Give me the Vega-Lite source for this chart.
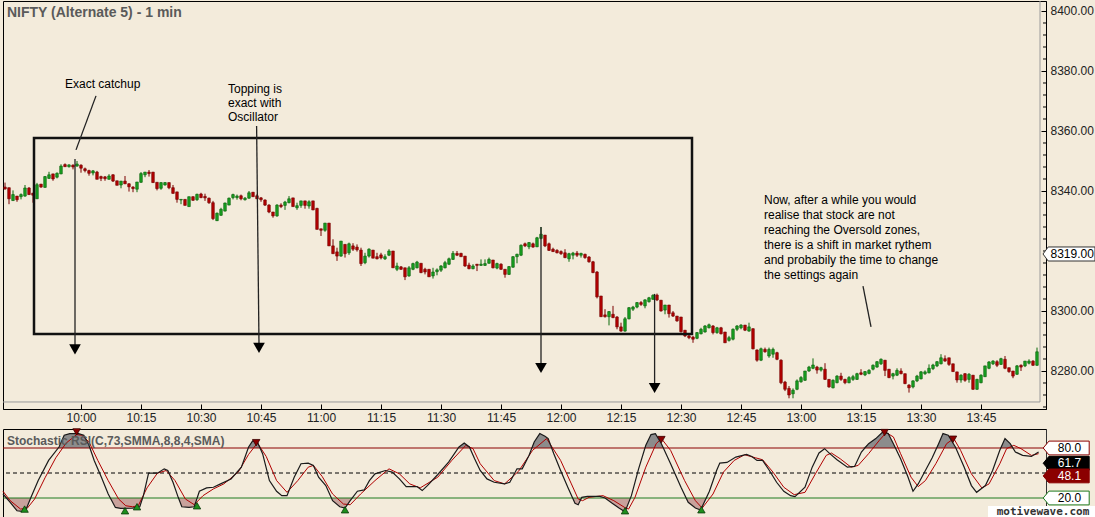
{
"$schema":"https://vega.github.io/schema/vega-lite/v6.json",
"background":"#f3ebdb",
"padding":0,
"bounds":"flush",
"spacing":20,
"config":{"view":{"stroke":"#000","strokeWidth":1},"font":"Liberation Sans"},
"datasets":{
"c":[
{"m":1,"o":8341.3,"h":8342.8,"l":8340.4,"c":8340.7},{"m":2,"o":8341.1,"h":8341.1,"l":8335.6,"c":8337.4},{"m":3,"o":8336.8,"h":8340.2,"l":8336.7,"c":8338.8},{"m":4,"o":8338.3,"h":8338.3,"l":8336.4,"c":8337.1},{"m":5,"o":8338.1,"h":8339.2,"l":8337.2,"c":8338.8},
{"m":6,"o":8338.3,"h":8342.0,"l":8338.1,"c":8341.0},{"m":7,"o":8341.0,"h":8341.3,"l":8338.7,"c":8338.8},{"m":8,"o":8339.3,"h":8339.3,"l":8336.1,"c":8338.6},{"m":9,"o":8337.4,"h":8342.7,"l":8337.4,"c":8342.1},{"m":10,"o":8342.3,"h":8342.3,"l":8341.1,"c":8341.3},
{"m":11,"o":8341.2,"h":8345.0,"l":8341.1,"c":8344.8},{"m":12,"o":8344.2,"h":8346.4,"l":8344.0,"c":8345.4},{"m":13,"o":8345.7,"h":8345.7,"l":8343.4,"c":8344.0},{"m":14,"o":8344.6,"h":8346.2,"l":8344.2,"c":8345.9},{"m":15,"o":8345.7,"h":8348.9,"l":8345.6,"c":8348.3},
{"m":16,"o":8348.8,"h":8349.2,"l":8348.0,"c":8348.1},{"m":17,"o":8348.1,"h":8348.9,"l":8347.8,"c":8348.7},{"m":18,"o":8348.6,"h":8348.9,"l":8347.2,"c":8348.0},{"m":19,"o":8348.3,"h":8350.0,"l":8348.1,"c":8349.0},{"m":20,"o":8348.6,"h":8348.9,"l":8346.1,"c":8347.6},
{"m":21,"o":8347.4,"h":8347.8,"l":8346.2,"c":8346.8},{"m":22,"o":8346.8,"h":8347.1,"l":8345.1,"c":8345.9},{"m":23,"o":8346.0,"h":8347.0,"l":8345.2,"c":8346.7},{"m":24,"o":8346.3,"h":8346.7,"l":8343.9,"c":8343.9},{"m":25,"o":8344.8,"h":8345.1,"l":8343.3,"c":8344.2},
{"m":26,"o":8344.7,"h":8345.0,"l":8343.4,"c":8344.1},{"m":27,"o":8343.9,"h":8345.6,"l":8343.8,"c":8345.0},{"m":28,"o":8345.4,"h":8345.6,"l":8343.0,"c":8343.3},{"m":29,"o":8343.4,"h":8343.4,"l":8341.9,"c":8341.9},{"m":30,"o":8342.0,"h":8343.3,"l":8340.9,"c":8343.3},
{"m":31,"o":8343.3,"h":8345.0,"l":8342.3,"c":8342.4},{"m":32,"o":8342.4,"h":8342.6,"l":8339.8,"c":8341.4},{"m":33,"o":8341.3,"h":8341.6,"l":8339.6,"c":8340.8},{"m":34,"o":8340.6,"h":8343.0,"l":8339.6,"c":8343.0},{"m":35,"o":8342.9,"h":8346.3,"l":8342.7,"c":8345.8},
{"m":36,"o":8345.4,"h":8346.3,"l":8344.6,"c":8346.3},{"m":37,"o":8346.3,"h":8347.0,"l":8344.8,"c":8345.8},{"m":38,"o":8346.3,"h":8346.3,"l":8342.7,"c":8342.8},{"m":39,"o":8342.9,"h":8342.9,"l":8340.2,"c":8340.8},{"m":40,"o":8340.9,"h":8342.9,"l":8340.4,"c":8342.8},
{"m":41,"o":8342.0,"h":8343.0,"l":8341.8,"c":8342.8},{"m":42,"o":8342.8,"h":8342.8,"l":8340.6,"c":8341.1},{"m":43,"o":8341.1,"h":8342.0,"l":8339.1,"c":8339.2},{"m":44,"o":8339.7,"h":8339.7,"l":8336.1,"c":8337.2},{"m":45,"o":8337.0,"h":8337.2,"l":8335.6,"c":8337.2},
{"m":46,"o":8337.2,"h":8337.2,"l":8335.2,"c":8335.2},{"m":47,"o":8334.8,"h":8338.1,"l":8334.8,"c":8338.1},{"m":48,"o":8338.1,"h":8338.2,"l":8336.7,"c":8336.9},{"m":49,"o":8337.1,"h":8339.1,"l":8336.7,"c":8338.9},{"m":50,"o":8339.0,"h":8339.4,"l":8337.6,"c":8337.8},
{"m":51,"o":8338.2,"h":8339.1,"l":8336.7,"c":8337.7},{"m":52,"o":8337.6,"h":8337.8,"l":8335.7,"c":8336.1},{"m":53,"o":8336.1,"h":8336.7,"l":8330.3,"c":8330.8},{"m":54,"o":8330.1,"h":8332.8,"l":8330.0,"c":8332.6},{"m":55,"o":8331.9,"h":8334.4,"l":8331.7,"c":8333.9},
{"m":56,"o":8333.3,"h":8336.1,"l":8333.2,"c":8336.0},{"m":57,"o":8335.3,"h":8337.8,"l":8335.3,"c":8337.6},{"m":58,"o":8337.8,"h":8339.1,"l":8337.2,"c":8338.8},{"m":59,"o":8337.8,"h":8338.8,"l":8337.1,"c":8338.3},{"m":60,"o":8338.4,"h":8338.8,"l":8336.9,"c":8337.4},
{"m":61,"o":8337.1,"h":8338.0,"l":8336.8,"c":8337.6},{"m":62,"o":8337.6,"h":8340.0,"l":8337.4,"c":8339.4},{"m":63,"o":8339.6,"h":8339.6,"l":8338.1,"c":8338.1},{"m":64,"o":8338.4,"h":8338.9,"l":8337.3,"c":8337.4},{"m":65,"o":8337.7,"h":8338.0,"l":8336.4,"c":8337.1},
{"m":66,"o":8337.0,"h":8337.2,"l":8335.0,"c":8335.3},{"m":67,"o":8335.3,"h":8335.6,"l":8332.6,"c":8333.0},{"m":68,"o":8333.0,"h":8333.0,"l":8331.1,"c":8331.7},{"m":69,"o":8331.7,"h":8335.6,"l":8331.4,"c":8335.3},{"m":70,"o":8335.3,"h":8335.9,"l":8334.3,"c":8334.8},
{"m":71,"o":8335.2,"h":8336.7,"l":8333.7,"c":8336.3},{"m":72,"o":8336.1,"h":8338.3,"l":8335.9,"c":8337.4},{"m":73,"o":8337.7,"h":8337.7,"l":8334.8,"c":8334.8},{"m":74,"o":8334.4,"h":8336.1,"l":8333.7,"c":8335.1},{"m":75,"o":8335.2,"h":8336.7,"l":8334.4,"c":8336.7},
{"m":76,"o":8336.7,"h":8336.7,"l":8334.1,"c":8335.2},{"m":77,"o":8335.0,"h":8336.9,"l":8334.1,"c":8336.4},{"m":78,"o":8336.7,"h":8336.7,"l":8333.6,"c":8333.7},{"m":79,"o":8334.2,"h":8334.4,"l":8327.2,"c":8327.2},{"m":80,"o":8327.4,"h":8327.4,"l":8325.0,"c":8326.9},
{"m":81,"o":8326.9,"h":8329.3,"l":8326.4,"c":8329.3},{"m":82,"o":8329.3,"h":8329.3,"l":8321.7,"c":8321.7},{"m":83,"o":8321.7,"h":8323.9,"l":8319.1,"c":8319.1},{"m":84,"o":8319.7,"h":8321.1,"l":8316.7,"c":8318.3},{"m":85,"o":8318.3,"h":8323.3,"l":8318.1,"c":8323.3},
{"m":86,"o":8322.2,"h":8322.2,"l":8317.8,"c":8319.1},{"m":87,"o":8319.4,"h":8322.8,"l":8318.7,"c":8322.4},{"m":88,"o":8321.7,"h":8322.6,"l":8320.0,"c":8320.6},{"m":89,"o":8321.3,"h":8322.2,"l":8319.8,"c":8320.4},{"m":90,"o":8320.3,"h":8321.1,"l":8315.0,"c":8315.8},
{"m":91,"o":8316.1,"h":8319.4,"l":8315.6,"c":8318.3},{"m":92,"o":8318.3,"h":8320.9,"l":8317.8,"c":8320.6},{"m":93,"o":8320.3,"h":8320.3,"l":8317.6,"c":8317.6},{"m":94,"o":8318.1,"h":8319.4,"l":8317.2,"c":8317.4},{"m":95,"o":8318.7,"h":8319.4,"l":8317.2,"c":8317.7},
{"m":96,"o":8317.4,"h":8318.9,"l":8317.0,"c":8318.1},{"m":97,"o":8318.6,"h":8320.6,"l":8318.3,"c":8320.0},{"m":98,"o":8320.0,"h":8320.0,"l":8314.4,"c":8314.4},{"m":99,"o":8313.9,"h":8316.1,"l":8313.3,"c":8315.0},{"m":100,"o":8314.7,"h":8315.0,"l":8313.7,"c":8313.9},
{"m":101,"o":8314.4,"h":8314.4,"l":8310.3,"c":8311.4},{"m":102,"o":8311.7,"h":8315.0,"l":8311.4,"c":8314.4},{"m":103,"o":8313.9,"h":8316.1,"l":8313.6,"c":8315.8},{"m":104,"o":8314.4,"h":8316.7,"l":8314.2,"c":8316.3},{"m":105,"o":8315.9,"h":8315.9,"l":8312.6,"c":8312.8},
{"m":106,"o":8313.9,"h":8314.4,"l":8312.2,"c":8313.0},{"m":107,"o":8313.9,"h":8313.9,"l":8311.4,"c":8311.4},{"m":108,"o":8311.7,"h":8314.4,"l":8310.8,"c":8313.0},{"m":109,"o":8313.1,"h":8314.2,"l":8311.9,"c":8313.7},{"m":110,"o":8313.6,"h":8315.3,"l":8313.0,"c":8315.0},
{"m":111,"o":8314.4,"h":8316.7,"l":8314.2,"c":8316.1},{"m":112,"o":8315.6,"h":8317.8,"l":8315.3,"c":8317.4},{"m":113,"o":8317.2,"h":8320.0,"l":8317.0,"c":8319.2},{"m":114,"o":8319.2,"h":8320.0,"l":8318.3,"c":8318.6},{"m":115,"o":8319.2,"h":8319.4,"l":8318.1,"c":8318.1},
{"m":116,"o":8318.3,"h":8318.3,"l":8314.7,"c":8315.0},{"m":117,"o":8315.3,"h":8316.1,"l":8313.9,"c":8314.1},{"m":118,"o":8314.1,"h":8315.6,"l":8313.9,"c":8315.0},{"m":119,"o":8315.6,"h":8315.6,"l":8313.3,"c":8315.2},{"m":120,"o":8315.2,"h":8317.2,"l":8315.0,"c":8315.6},
{"m":121,"o":8315.2,"h":8317.2,"l":8315.0,"c":8315.8},{"m":122,"o":8315.9,"h":8317.8,"l":8315.8,"c":8317.2},{"m":123,"o":8317.0,"h":8317.0,"l":8314.2,"c":8314.4},{"m":124,"o":8314.3,"h":8316.1,"l":8313.9,"c":8315.8},{"m":125,"o":8315.6,"h":8315.9,"l":8313.7,"c":8313.9},
{"m":126,"o":8313.9,"h":8313.9,"l":8311.1,"c":8312.2},{"m":127,"o":8312.2,"h":8315.0,"l":8312.0,"c":8314.8},{"m":128,"o":8314.6,"h":8318.3,"l":8314.4,"c":8318.1},{"m":129,"o":8318.1,"h":8319.1,"l":8315.9,"c":8318.9},{"m":130,"o":8318.6,"h":8322.2,"l":8318.3,"c":8321.9},
{"m":131,"o":8322.4,"h":8322.8,"l":8321.3,"c":8321.7},{"m":132,"o":8321.4,"h":8323.0,"l":8320.6,"c":8322.8},{"m":133,"o":8322.4,"h":8322.8,"l":8321.1,"c":8321.3},{"m":134,"o":8321.4,"h":8324.7,"l":8321.3,"c":8324.4},{"m":135,"o":8324.2,"h":8328.0,"l":8323.9,"c":8325.6},
{"m":136,"o":8325.3,"h":8325.3,"l":8321.3,"c":8321.7},{"m":137,"o":8322.4,"h":8322.8,"l":8320.0,"c":8320.2},{"m":138,"o":8320.6,"h":8321.1,"l":8319.7,"c":8319.8},{"m":139,"o":8320.2,"h":8320.6,"l":8319.2,"c":8319.4},{"m":140,"o":8319.8,"h":8320.2,"l":8318.7,"c":8319.1},
{"m":141,"o":8319.4,"h":8320.6,"l":8317.6,"c":8317.8},{"m":142,"o":8317.4,"h":8319.4,"l":8316.4,"c":8319.1},{"m":143,"o":8318.6,"h":8319.7,"l":8317.2,"c":8319.3},{"m":144,"o":8319.3,"h":8320.0,"l":8318.0,"c":8318.6},{"m":145,"o":8318.6,"h":8319.4,"l":8317.8,"c":8319.2},
{"m":146,"o":8318.9,"h":8319.1,"l":8317.4,"c":8317.8},{"m":147,"o":8318.0,"h":8318.3,"l":8316.1,"c":8316.4},{"m":148,"o":8316.4,"h":8316.7,"l":8312.6,"c":8312.8},{"m":149,"o":8313.0,"h":8313.3,"l":8304.2,"c":8304.7},{"m":150,"o":8305.0,"h":8305.0,"l":8298.0,"c":8298.1},
{"m":151,"o":8298.7,"h":8300.6,"l":8297.8,"c":8298.1},{"m":152,"o":8298.1,"h":8300.0,"l":8295.2,"c":8299.8},{"m":153,"o":8298.9,"h":8301.7,"l":8297.6,"c":8297.8},{"m":154,"o":8298.0,"h":8298.3,"l":8293.9,"c":8294.7},{"m":155,"o":8294.7,"h":8296.1,"l":8293.1,"c":8293.3},
{"m":156,"o":8293.3,"h":8298.0,"l":8293.1,"c":8297.4},{"m":157,"o":8297.4,"h":8301.3,"l":8297.2,"c":8301.1},{"m":158,"o":8300.6,"h":8301.7,"l":8300.0,"c":8301.3},{"m":159,"o":8301.3,"h":8303.0,"l":8300.9,"c":8302.8},{"m":160,"o":8302.8,"h":8303.3,"l":8301.7,"c":8302.2},
{"m":161,"o":8301.7,"h":8303.9,"l":8300.9,"c":8303.7},{"m":162,"o":8303.1,"h":8304.7,"l":8302.8,"c":8304.4},{"m":163,"o":8303.9,"h":8305.6,"l":8303.7,"c":8305.2},{"m":164,"o":8305.3,"h":8305.8,"l":8303.3,"c":8303.7},{"m":165,"o":8303.6,"h":8303.6,"l":8299.8,"c":8300.0},
{"m":166,"o":8300.3,"h":8302.0,"l":8298.9,"c":8302.0},{"m":167,"o":8302.0,"h":8302.0,"l":8297.8,"c":8299.1},{"m":168,"o":8299.4,"h":8300.0,"l":8298.0,"c":8298.3},{"m":169,"o":8298.3,"h":8298.3,"l":8296.4,"c":8296.7},{"m":170,"o":8298.0,"h":8298.0,"l":8292.8,"c":8293.1},
{"m":171,"o":8293.6,"h":8293.6,"l":8291.3,"c":8291.7},{"m":172,"o":8291.7,"h":8292.2,"l":8290.6,"c":8291.1},{"m":173,"o":8291.3,"h":8291.7,"l":8289.4,"c":8290.6},{"m":174,"o":8290.9,"h":8293.0,"l":8290.6,"c":8292.8},{"m":175,"o":8292.4,"h":8294.4,"l":8292.2,"c":8293.9},
{"m":176,"o":8293.0,"h":8295.3,"l":8292.8,"c":8295.0},{"m":177,"o":8294.4,"h":8295.8,"l":8294.2,"c":8295.4},{"m":178,"o":8295.0,"h":8295.3,"l":8292.2,"c":8292.8},{"m":179,"o":8292.8,"h":8294.7,"l":8292.4,"c":8294.4},{"m":180,"o":8294.4,"h":8294.7,"l":8292.2,"c":8292.4},
{"m":181,"o":8293.0,"h":8293.0,"l":8289.4,"c":8289.4},{"m":182,"o":8290.2,"h":8291.7,"l":8289.8,"c":8291.1},{"m":183,"o":8290.6,"h":8294.2,"l":8290.2,"c":8293.9},{"m":184,"o":8293.9,"h":8295.3,"l":8293.3,"c":8295.0},{"m":185,"o":8294.4,"h":8295.6,"l":8293.9,"c":8295.3},
{"m":186,"o":8295.3,"h":8295.3,"l":8293.3,"c":8293.6},{"m":187,"o":8293.3,"h":8296.1,"l":8293.1,"c":8294.7},{"m":188,"o":8294.1,"h":8294.2,"l":8287.2,"c":8287.4},{"m":189,"o":8287.0,"h":8287.2,"l":8283.1,"c":8283.6},{"m":190,"o":8283.6,"h":8287.8,"l":8283.3,"c":8287.4},
{"m":191,"o":8287.2,"h":8287.8,"l":8286.1,"c":8286.4},{"m":192,"o":8285.0,"h":8287.8,"l":8284.4,"c":8287.2},{"m":193,"o":8285.6,"h":8287.8,"l":8284.4,"c":8287.2},{"m":194,"o":8286.1,"h":8286.4,"l":8283.6,"c":8283.9},{"m":195,"o":8283.6,"h":8283.9,"l":8275.6,"c":8276.1},
{"m":196,"o":8276.3,"h":8276.7,"l":8273.3,"c":8273.9},{"m":197,"o":8274.2,"h":8275.0,"l":8270.9,"c":8272.0},{"m":198,"o":8272.4,"h":8274.2,"l":8270.9,"c":8273.6},{"m":199,"o":8273.9,"h":8277.2,"l":8273.6,"c":8276.7},{"m":200,"o":8276.4,"h":8278.3,"l":8276.1,"c":8277.8},
{"m":201,"o":8276.9,"h":8280.0,"l":8276.7,"c":8280.0},{"m":202,"o":8280.0,"h":8281.7,"l":8279.7,"c":8281.3},{"m":203,"o":8280.9,"h":8284.2,"l":8280.6,"c":8282.0},{"m":204,"o":8281.3,"h":8281.7,"l":8279.1,"c":8280.3},{"m":205,"o":8280.3,"h":8281.4,"l":8279.8,"c":8281.1},
{"m":206,"o":8280.6,"h":8282.6,"l":8277.0,"c":8277.2},{"m":207,"o":8277.2,"h":8277.2,"l":8274.4,"c":8274.7},{"m":208,"o":8274.4,"h":8277.2,"l":8274.2,"c":8276.9},{"m":209,"o":8276.1,"h":8278.6,"l":8275.9,"c":8278.3},{"m":210,"o":8278.3,"h":8279.4,"l":8276.7,"c":8277.2},
{"m":211,"o":8277.2,"h":8277.4,"l":8275.6,"c":8276.1},{"m":212,"o":8276.1,"h":8278.3,"l":8275.9,"c":8277.8},{"m":213,"o":8277.2,"h":8278.7,"l":8276.7,"c":8278.1},{"m":214,"o":8277.2,"h":8279.4,"l":8277.0,"c":8279.1},{"m":215,"o":8279.4,"h":8280.6,"l":8278.6,"c":8278.9},
{"m":216,"o":8278.7,"h":8280.0,"l":8278.3,"c":8279.8},{"m":217,"o":8279.2,"h":8280.6,"l":8278.9,"c":8280.2},{"m":218,"o":8280.6,"h":8282.2,"l":8280.2,"c":8281.9},{"m":219,"o":8281.3,"h":8283.3,"l":8281.1,"c":8283.1},{"m":220,"o":8282.4,"h":8284.2,"l":8282.0,"c":8283.9},
{"m":221,"o":8283.6,"h":8283.6,"l":8278.3,"c":8280.2},{"m":222,"o":8280.6,"h":8280.6,"l":8277.6,"c":8277.8},{"m":223,"o":8278.3,"h":8279.4,"l":8277.2,"c":8279.1},{"m":224,"o":8278.6,"h":8280.9,"l":8278.3,"c":8280.2},{"m":225,"o":8280.0,"h":8280.9,"l":8278.9,"c":8279.1},
{"m":226,"o":8279.1,"h":8279.1,"l":8275.6,"c":8275.8},{"m":227,"o":8275.3,"h":8275.6,"l":8272.8,"c":8274.4},{"m":228,"o":8274.7,"h":8276.9,"l":8274.2,"c":8276.7},{"m":229,"o":8276.7,"h":8278.7,"l":8276.3,"c":8278.3},{"m":230,"o":8277.4,"h":8280.0,"l":8277.2,"c":8279.7},
{"m":231,"o":8279.1,"h":8280.2,"l":8278.7,"c":8279.7},{"m":232,"o":8279.4,"h":8282.2,"l":8279.2,"c":8280.9},{"m":233,"o":8280.8,"h":8282.4,"l":8280.3,"c":8282.0},{"m":234,"o":8281.7,"h":8283.3,"l":8281.3,"c":8283.1},{"m":235,"o":8282.4,"h":8285.6,"l":8282.2,"c":8284.4},
{"m":236,"o":8284.1,"h":8285.2,"l":8283.1,"c":8283.3},{"m":237,"o":8284.4,"h":8284.4,"l":8281.7,"c":8282.2},{"m":238,"o":8282.4,"h":8282.4,"l":8279.7,"c":8279.8},{"m":239,"o":8279.7,"h":8279.7,"l":8276.1,"c":8277.0},{"m":240,"o":8277.0,"h":8278.9,"l":8276.1,"c":8278.6},
{"m":241,"o":8279.1,"h":8279.3,"l":8276.4,"c":8276.9},{"m":242,"o":8277.2,"h":8279.3,"l":8276.1,"c":8278.9},{"m":243,"o":8278.6,"h":8278.6,"l":8273.7,"c":8273.9},{"m":244,"o":8273.9,"h":8277.4,"l":8273.7,"c":8277.2},{"m":245,"o":8276.1,"h":8278.9,"l":8275.9,"c":8278.6},
{"m":246,"o":8278.1,"h":8281.7,"l":8278.0,"c":8281.7},{"m":247,"o":8280.9,"h":8283.3,"l":8280.6,"c":8283.0},{"m":248,"o":8282.4,"h":8283.6,"l":8282.0,"c":8283.3},{"m":249,"o":8283.1,"h":8283.6,"l":8281.3,"c":8281.9},{"m":250,"o":8282.2,"h":8284.4,"l":8282.0,"c":8284.1},
{"m":251,"o":8283.9,"h":8285.0,"l":8280.6,"c":8280.9},{"m":252,"o":8281.1,"h":8281.1,"l":8279.4,"c":8279.8},{"m":253,"o":8280.0,"h":8280.0,"l":8277.6,"c":8278.3},{"m":254,"o":8278.9,"h":8282.0,"l":8278.7,"c":8281.7},{"m":255,"o":8281.9,"h":8282.2,"l":8280.0,"c":8281.3},
{"m":256,"o":8281.7,"h":8283.3,"l":8281.3,"c":8283.3},{"m":257,"o":8282.6,"h":8283.9,"l":8282.2,"c":8283.3},{"m":258,"o":8283.3,"h":8283.6,"l":8281.7,"c":8281.9},{"m":259,"o":8281.9,"h":8287.8,"l":8281.7,"c":8286.4}
],
"k":[
{"m":0.5,"v":24.8},{"m":2.3,"v":14.8},{"m":4.0,"v":4.7},{"m":5.3,"v":3.9},{"m":6.2,"v":5.5},{"m":7.5,"v":20.8},{"m":9.3,"v":40.9},{"m":11.9,"v":65.1},{"m":14.5,"v":81.2},{"m":15.8,"v":95.3},{"m":17.2,"v":97.3},{"m":19.4,"v":97.3},{"m":20.7,"v":95.3},{"m":22.0,"v":83.2},{"m":23.3,"v":65.1},{"m":25.1,"v":45.0},{"m":26.8,"v":24.8},{"m":28.6,"v":8.7},{"m":29.9,"v":7.5},{"m":32.9,"v":7.9},{"m":34.7,"v":9.5},{"m":35.6,"v":22.8},{"m":36.9,"v":49.8},{"m":39.1,"v":49.8},{"m":40.8,"v":55.0},{"m":41.7,"v":53.0},{"m":43.0,"v":38.9},{"m":44.3,"v":20.8},{"m":45.2,"v":9.5},{"m":47.0,"v":8.7},{"m":48.3,"v":9.5},{"m":49.6,"v":28.1},{"m":51.4,"v":32.1},{"m":53.1,"v":32.9},{"m":54.9,"v":36.9},{"m":57.5,"v":42.9},{"m":60.1,"v":57.0},{"m":61.9,"v":81.2},{"m":62.9,"v":88.5},{"m":64.1,"v":87.2},{"m":65.4,"v":73.2},{"m":67.1,"v":40.9},{"m":68.9,"v":28.1},{"m":70.2,"v":22.8},{"m":71.5,"v":22.8},{"m":73.3,"v":45.0},{"m":75.0,"v":61.1},{"m":76.8,"v":61.9},{"m":78.1,"v":59.1},{"m":79.4,"v":45.0},{"m":81.2,"v":34.9},{"m":82.9,"v":16.8},{"m":84.7,"v":9.5},{"m":86.0,"v":7.9},{"m":87.3,"v":16.8},{"m":89.1,"v":28.1},{"m":90.8,"v":29.7},{"m":92.1,"v":40.9},{"m":93.5,"v":49.0},{"m":96.1,"v":53.0},{"m":97.8,"v":51.0},{"m":99.6,"v":42.9},{"m":101.3,"v":33.7},{"m":104.0,"v":33.7},{"m":105.3,"v":28.9},{"m":106.6,"v":34.9},{"m":109.2,"v":48.2},{"m":111.9,"v":63.1},{"m":114.5,"v":81.2},{"m":115.8,"v":86.0},{"m":117.1,"v":81.2},{"m":118.4,"v":67.1},{"m":119.8,"v":53.0},{"m":121.5,"v":42.9},{"m":123.3,"v":38.9},{"m":125.9,"v":36.9},{"m":127.2,"v":38.9},{"m":129.0,"v":55.0},{"m":130.3,"v":55.0},{"m":132.0,"v":71.1},{"m":133.3,"v":87.2},{"m":134.7,"v":97.3},{"m":136.0,"v":94.1},{"m":136.8,"v":91.3},{"m":138.2,"v":73.2},{"m":139.9,"v":53.0},{"m":141.7,"v":32.9},{"m":143.5,"v":13.6},{"m":144.3,"v":11.9},{"m":145.2,"v":20.8},{"m":146.6,"v":22.0},{"m":149.7,"v":22.0},{"m":151.0,"v":20.0},{"m":152.8,"v":13.6},{"m":154.5,"v":7.9},{"m":156.0,"v":3.5},{"m":157.6,"v":22.8},{"m":159.4,"v":55.0},{"m":161.2,"v":83.2},{"m":162.5,"v":96.1},{"m":163.6,"v":97.3},{"m":165.1,"v":85.2},{"m":167.4,"v":61.1},{"m":170.0,"v":32.9},{"m":171.8,"v":14.8},{"m":173.6,"v":7.9},{"m":174.9,"v":5.5},{"m":177.1,"v":28.1},{"m":178.9,"v":53.0},{"m":179.7,"v":61.9},{"m":181.5,"v":62.7},{"m":183.7,"v":69.1},{"m":186.4,"v":72.3},{"m":187.7,"v":69.9},{"m":189.0,"v":65.1},{"m":190.4,"v":65.1},{"m":192.1,"v":53.0},{"m":193.9,"v":38.9},{"m":195.7,"v":28.1},{"m":197.4,"v":22.8},{"m":198.5,"v":21.6},{"m":201.0,"v":32.9},{"m":202.8,"v":57.0},{"m":204.5,"v":74.0},{"m":205.9,"v":79.2},{"m":207.2,"v":73.2},{"m":209.0,"v":65.9},{"m":211.6,"v":57.0},{"m":213.4,"v":57.9},{"m":215.1,"v":75.2},{"m":216.9,"v":85.2},{"m":218.7,"v":91.3},{"m":220.5,"v":99.5},{"m":221.8,"v":97.3},{"m":223.1,"v":85.2},{"m":224.9,"v":67.1},{"m":226.7,"v":45.8},{"m":228.0,"v":28.1},{"m":229.3,"v":36.9},{"m":231.1,"v":53.0},{"m":232.8,"v":68.3},{"m":234.4,"v":85.2},{"m":235.5,"v":97.3},{"m":236.8,"v":95.3},{"m":238.6,"v":81.2},{"m":240.8,"v":57.0},{"m":242.6,"v":34.9},{"m":243.9,"v":26.8},{"m":246.1,"v":34.9},{"m":247.9,"v":53.0},{"m":249.7,"v":77.2},{"m":251.0,"v":91.3},{"m":252.3,"v":85.2},{"m":253.6,"v":75.2},{"m":255.4,"v":71.1},{"m":257.6,"v":69.9},{"m":259.4,"v":75.2}
],
"d":[
{"m":0.5,"v":28.1},{"m":2.3,"v":16.8},{"m":4.9,"v":6.7},{"m":6.6,"v":7.9},{"m":8.4,"v":18.8},{"m":11.0,"v":44.2},{"m":13.7,"v":68.3},{"m":16.3,"v":86.0},{"m":18.9,"v":96.1},{"m":20.2,"v":95.3},{"m":22.0,"v":87.2},{"m":24.2,"v":65.1},{"m":26.8,"v":40.9},{"m":29.4,"v":18.8},{"m":31.2,"v":10.7},{"m":32.9,"v":9.5},{"m":34.3,"v":10.7},{"m":36.5,"v":32.1},{"m":39.1,"v":49.8},{"m":41.3,"v":53.0},{"m":43.5,"v":40.9},{"m":46.1,"v":18.8},{"m":48.3,"v":12.0},{"m":50.5,"v":22.8},{"m":53.1,"v":30.9},{"m":55.7,"v":36.9},{"m":59.3,"v":51.0},{"m":61.9,"v":72.3},{"m":64.1,"v":86.0},{"m":66.3,"v":69.9},{"m":68.9,"v":40.9},{"m":71.5,"v":26.8},{"m":74.2,"v":40.9},{"m":76.8,"v":57.0},{"m":78.1,"v":59.1},{"m":80.3,"v":45.8},{"m":82.9,"v":24.8},{"m":85.6,"v":12.8},{"m":87.3,"v":11.9},{"m":89.9,"v":24.8},{"m":93.5,"v":40.9},{"m":97.0,"v":55.0},{"m":99.6,"v":49.0},{"m":102.2,"v":36.9},{"m":104.8,"v":32.1},{"m":109.2,"v":45.0},{"m":112.7,"v":65.1},{"m":116.2,"v":83.2},{"m":118.0,"v":79.2},{"m":119.8,"v":61.1},{"m":123.3,"v":40.9},{"m":125.9,"v":36.9},{"m":129.4,"v":52.2},{"m":132.9,"v":77.2},{"m":136.4,"v":91.3},{"m":139.9,"v":65.1},{"m":142.6,"v":36.9},{"m":144.3,"v":18.8},{"m":145.4,"v":16.8},{"m":147.0,"v":20.8},{"m":150.5,"v":22.8},{"m":153.2,"v":16.8},{"m":155.9,"v":8.7},{"m":156.9,"v":6.7},{"m":158.5,"v":20.8},{"m":161.2,"v":57.0},{"m":163.8,"v":85.2},{"m":165.1,"v":91.3},{"m":167.4,"v":77.2},{"m":170.9,"v":40.9},{"m":173.6,"v":16.8},{"m":175.3,"v":7.9},{"m":178.0,"v":24.8},{"m":180.6,"v":51.0},{"m":183.3,"v":65.1},{"m":185.9,"v":71.9},{"m":188.6,"v":68.3},{"m":190.4,"v":65.9},{"m":193.0,"v":51.0},{"m":195.7,"v":32.9},{"m":198.3,"v":24.0},{"m":201.0,"v":26.8},{"m":203.6,"v":49.0},{"m":206.3,"v":71.1},{"m":207.6,"v":74.0},{"m":209.8,"v":67.1},{"m":212.5,"v":57.0},{"m":214.3,"v":59.1},{"m":216.9,"v":73.2},{"m":219.6,"v":89.3},{"m":221.3,"v":98.5},{"m":223.1,"v":93.3},{"m":224.9,"v":73.2},{"m":227.5,"v":45.0},{"m":229.3,"v":33.7},{"m":231.1,"v":40.9},{"m":233.7,"v":61.1},{"m":236.4,"v":85.2},{"m":238.2,"v":91.3},{"m":239.9,"v":77.2},{"m":242.6,"v":49.0},{"m":245.2,"v":32.1},{"m":247.0,"v":36.9},{"m":249.7,"v":61.1},{"m":251.4,"v":79.2},{"m":253.2,"v":83.2},{"m":255.0,"v":79.2},{"m":257.6,"v":71.1},{"m":259.4,"v":73.2}
],
"hi":[
{"g":1,"m":14.4,"v":80},{"g":1,"m":15.8,"v":95.3},{"g":1,"m":17.2,"v":97.3},{"g":1,"m":19.4,"v":97.3},{"g":1,"m":20.7,"v":95.3},{"g":1,"m":22.0,"v":83.2},{"g":1,"m":22.2,"v":80},
{"g":2,"m":61.8,"v":80},{"g":2,"m":62.9,"v":88.5},{"g":2,"m":64.1,"v":87.2},{"g":2,"m":64.8,"v":80},
{"g":3,"m":114.3,"v":80},{"g":3,"m":115.8,"v":86.0},{"g":3,"m":117.1,"v":81.2},{"g":3,"m":117.3,"v":80},
{"g":4,"m":132.6,"v":80},{"g":4,"m":133.3,"v":87.2},{"g":4,"m":134.7,"v":97.3},{"g":4,"m":136.0,"v":94.1},{"g":4,"m":136.8,"v":91.3},{"g":4,"m":137.6,"v":80},
{"g":5,"m":160.9,"v":80},{"g":5,"m":161.2,"v":83.2},{"g":5,"m":162.5,"v":96.1},{"g":5,"m":163.6,"v":97.3},{"g":5,"m":165.1,"v":85.2},{"g":5,"m":165.6,"v":80},
{"g":6,"m":215.5,"v":80},{"g":6,"m":216.9,"v":85.2},{"g":6,"m":218.7,"v":91.3},{"g":6,"m":220.5,"v":99.5},{"g":6,"m":221.8,"v":97.3},{"g":6,"m":223.1,"v":85.2},{"g":6,"m":223.6,"v":80},
{"g":7,"m":233.9,"v":80},{"g":7,"m":234.4,"v":85.2},{"g":7,"m":235.5,"v":97.3},{"g":7,"m":236.8,"v":95.3},{"g":7,"m":238.6,"v":81.2},{"g":7,"m":238.7,"v":80},
{"g":8,"m":249.9,"v":80},{"g":8,"m":251.0,"v":91.3},{"g":8,"m":252.3,"v":85.2},{"g":8,"m":253.0,"v":80}
],
"lo":[
{"g":1,"m":1.4,"v":20},{"g":1,"m":2.3,"v":14.8},{"g":1,"m":4.0,"v":4.7},{"g":1,"m":5.3,"v":3.9},{"g":1,"m":6.2,"v":5.5},{"g":1,"m":7.4,"v":20},
{"g":2,"m":27.3,"v":20},{"g":2,"m":28.6,"v":8.7},{"g":2,"m":29.9,"v":7.5},{"g":2,"m":32.9,"v":7.9},{"g":2,"m":34.7,"v":9.5},{"g":2,"m":35.4,"v":20},
{"g":3,"m":44.4,"v":20},{"g":3,"m":45.2,"v":9.5},{"g":3,"m":47.0,"v":8.7},{"g":3,"m":48.3,"v":9.5},{"g":3,"m":48.9,"v":20},
{"g":4,"m":82.5,"v":20},{"g":4,"m":82.9,"v":16.8},{"g":4,"m":84.7,"v":9.5},{"g":4,"m":86.0,"v":7.9},{"g":4,"m":87.3,"v":16.8},{"g":4,"m":87.8,"v":20},
{"g":5,"m":142.9,"v":20},{"g":5,"m":143.5,"v":13.6},{"g":5,"m":144.3,"v":11.9},{"g":5,"m":145.1,"v":20},
{"g":6,"m":151.0,"v":20},{"g":6,"m":152.8,"v":13.6},{"g":6,"m":154.5,"v":7.9},{"g":6,"m":156.0,"v":3.5},{"g":6,"m":157.4,"v":20},
{"g":7,"m":171.3,"v":20},{"g":7,"m":171.8,"v":14.8},{"g":7,"m":173.6,"v":7.9},{"g":7,"m":174.9,"v":5.5},{"g":7,"m":176.4,"v":20}
],
"lvl":[{"v":80,"s":"ob"},{"v":20,"s":"os"}],
"mid":[{"v":50}],
"minor":[{"p":8268},{"p":8272},{"p":8276},{"p":8284},{"p":8288},{"p":8292},{"p":8296},{"p":8304},{"p":8308},{"p":8312},{"p":8316},{"p":8320},{"p":8324},{"p":8328},{"p":8332},{"p":8336},{"p":8344},{"p":8348},{"p":8352},{"p":8356},{"p":8364},{"p":8368},{"p":8372},{"p":8376},{"p":8384},{"p":8388},{"p":8392},{"p":8396}],
"frame":[{"m":259.75,"p":8403.33,"m2":259.75,"p2":8269.67},{"m":0.5,"p":8269.67,"m2":259.75,"p2":8269.67}],
"tdn":[{"m":18.9,"v":99.3},{"m":63.8,"v":86.4},{"m":165.1,"v":90.1},{"m":220.9,"v":98.5},{"m":238.0,"v":90.5}],
"tup":[{"m":5.9,"v":6.7},{"m":31.0,"v":4.7},{"m":34.0,"v":9.5},{"m":49.0,"v":10.7},{"m":86.0,"v":5.9},{"m":156.0,"v":4.7},{"m":175.1,"v":5.9}],
"box":[{"m":8.25,"p":8357.7,"m2":172.75,"p2":8292.3}],
"seg":[{"m":23.75,"p":8371.7,"m2":18.75,"p2":8353.7},{"m":18.5,"p":8350.7,"m2":18.5,"p2":8288.3},{"m":63.9,"p":8361.7,"m2":64.5,"p2":8289.0},{"m":135,"p":8328.0,"m2":135,"p2":8282.7},{"m":163.4,"p":8305.7,"m2":163.4,"p2":8276.0},{"m":215.5,"p":8308.3,"m2":217.5,"p2":8294.7}],
"head":[{"m":18.5,"p":8287.2},{"m":64.5,"p":8287.7},{"m":135,"p":8281.0},{"m":163.4,"p":8274.3}],
"note":[{"m":16,"p":8375.7,"t":"Exact catchup"},{"m":56.75,"p":8374.0,"t":"Topping is"},{"m":56.75,"p":8369.3,"t":"exact with"},{"m":56.75,"p":8364.7,"t":"Oscillator"},{"m":190.75,"p":8337.0,"t":"Now, after a while you would"},{"m":190.75,"p":8332.0,"t":"realise that stock are not"},{"m":190.75,"p":8327.0,"t":"reaching the Oversold zones,"},{"m":190.75,"p":8322.0,"t":"there is a shift in market rythem"},{"m":190.75,"p":8317.0,"t":"and probabily the time to change"},{"m":190.75,"p":8312.0,"t":"the settings again"}],
"ttl":[{"m":1.5,"p":8399.3,"t":"NIFTY (Alternate 5) - 1 min"}],
"ptag":[{"m":267.0,"mt":267.8,"p":8319.0,"t":"8319.00"}],
"otag":[{"m":266.3,"mt":267.1,"v":80,"t":"80.0","s":"ob"},{"m":266.3,"mt":267.1,"v":61.7,"t":"61.7","s":"k"},{"m":266.3,"mt":267.1,"v":46.5,"t":"48.1","s":"d"},{"m":266.3,"mt":267.1,"v":20,"t":"20.0","s":"os"}],
"olab":[{"m":1.5,"v":88.4,"t":"Stochastic RSI(C,73,SMMA,8,8,4,SMA)"}],
"wm":[{"m":260.5,"v":3.0,"t":"motivewave.com"}]
},
"vconcat":[
{
"width":1043,"height":408,
"layer":[
{"data":{"name":"c"},"mark":{"type":"rule","strokeWidth":1},
 "encoding":{
  "x":{"field":"m","type":"quantitative","title":null,"scale":{"domain":[0.5,261.25],"nice":false,"zero":false,"padding":0},
   "axis":{"values":[20,35,50,65,80,95,110,125,140,155,170,185,200,215,230,245],"labelExpr":"timeFormat(datetime(2000,0,1,9,40+datum.value),'%H:%M')","tickSize":-5,"labelPadding":8,"grid":false,"domainColor":"#000","tickColor":"#000","labelFontSize":12,"labelColor":"#222","labelFont":"Liberation Sans"}},
  "y":{"field":"l","type":"quantitative","title":null,"scale":{"domain":[8267.33,8403.33],"nice":false,"zero":false},
   "axis":{"orient":"right","values":[8280,8300,8340,8360,8380,8400],"format":".2f","tickSize":-5,"labelPadding":9,"grid":false,"domainColor":"#000","tickColor":"#000","labelFontSize":12,"labelColor":"#222","labelFont":"Liberation Sans"}},
  "y2":{"field":"h"},
  "color":{"condition":{"test":"datum.c>=datum.o","value":"#0b6b0b"},"value":"#7a0000"}}},
{"data":{"name":"c"},"mark":{"type":"bar","size":2.6,"strokeWidth":0.6},
 "encoding":{
  "x":{"field":"m","type":"quantitative","title":null},
  "y":{"field":"o","type":"quantitative","title":null},
  "y2":{"field":"c"},
  "fill":{"condition":{"test":"datum.c>=datum.o","value":"#17a020"},"value":"#b50000"},
  "stroke":{"condition":{"test":"datum.c>=datum.o","value":"#0a5c0a"},"value":"#6e0000"}}},
{"data":{"name":"frame"},"mark":{"type":"rule","color":"#9a9a9a","strokeWidth":1},
 "encoding":{"x":{"field":"m","type":"quantitative","title":null},"x2":{"field":"m2"},"y":{"field":"p","type":"quantitative","title":null},"y2":{"field":"p2"}}},
{"data":{"name":"minor"},"mark":{"type":"tick","orient":"horizontal","size":3,"thickness":1,"color":"#000","opacity":1},
 "encoding":{"x":{"datum":260.875,"type":"quantitative"},"y":{"field":"p","type":"quantitative","title":null}}},
{"data":{"name":"box"},"mark":{"type":"rect","fill":"transparent","stroke":"#111","strokeWidth":2.5},
 "encoding":{"x":{"field":"m","type":"quantitative","title":null},"x2":{"field":"m2"},"y":{"field":"p","type":"quantitative","title":null},"y2":{"field":"p2"}}},
{"data":{"name":"seg"},"mark":{"type":"rule","color":"#222","strokeWidth":1.3},
 "encoding":{"x":{"field":"m","type":"quantitative","title":null},"x2":{"field":"m2"},"y":{"field":"p","type":"quantitative","title":null},"y2":{"field":"p2"}}},
{"data":{"name":"head"},"mark":{"type":"point","shape":"triangle-down","filled":true,"color":"#000","size":135,"opacity":1},
 "encoding":{"x":{"field":"m","type":"quantitative","title":null},"y":{"field":"p","type":"quantitative","title":null}}},
{"data":{"name":"note"},"mark":{"type":"text","align":"left","baseline":"middle","fontSize":12,"font":"Liberation Sans","color":"#000"},
 "encoding":{"x":{"field":"m","type":"quantitative","title":null},"y":{"field":"p","type":"quantitative","title":null},"text":{"field":"t"}}},
{"data":{"name":"ttl"},"mark":{"type":"text","align":"left","baseline":"middle","fontSize":14,"fontWeight":"bold","font":"Liberation Sans","color":"#5a5a5a"},
 "encoding":{"x":{"field":"m","type":"quantitative","title":null},"y":{"field":"p","type":"quantitative","title":null},"text":{"field":"t"}}},
{"data":{"name":"ptag"},"mark":{"type":"point","shape":"M-1,0L-0.8,-0.27L1,-0.27L1,0.27L-0.8,0.27Z","filled":true,"fill":"#fff","stroke":"#333","strokeWidth":1,"size":2704,"opacity":1},
 "encoding":{"x":{"field":"m","type":"quantitative","title":null},"y":{"field":"p","type":"quantitative","title":null}}},
{"data":{"name":"ptag"},"mark":{"type":"text","align":"center","baseline":"middle","fontSize":12,"font":"Liberation Sans","color":"#000"},
 "encoding":{"x":{"field":"mt","type":"quantitative","title":null},"y":{"field":"p","type":"quantitative","title":null},"text":{"field":"t"}}}
]
},
{
"width":1043,"height":88,
"layer":[
{"data":{"name":"hi"},"mark":{"type":"area","color":"#8c8c8c","opacity":1},
 "encoding":{"x":{"field":"m","type":"quantitative","title":null,"scale":{"domain":[0.5,261.25],"nice":false,"zero":false,"padding":0},"axis":null},
  "y":{"field":"v","type":"quantitative","title":null,"scale":{"domain":[-2.8,102.8],"nice":false,"zero":false},"axis":{"orient":"right","values":[0,20,40,60,80,100],"labels":false,"tickSize":4,"domainColor":"#333","tickColor":"#333","grid":false}},
  "y2":{"datum":80},"detail":{"field":"g","type":"nominal"}}},
{"data":{"name":"lo"},"mark":{"type":"area","color":"#c9a29c","opacity":1},
 "encoding":{"x":{"field":"m","type":"quantitative","title":null},
  "y":{"field":"v","type":"quantitative","title":null},
  "y2":{"datum":20},"detail":{"field":"g","type":"nominal"}}},
{"data":{"name":"lvl"},"mark":{"type":"rule","strokeWidth":1},
 "encoding":{"y":{"field":"v","type":"quantitative","title":null},
  "color":{"field":"s","type":"nominal","scale":{"domain":["ob","os"],"range":["#8b0000","#1e7a1e"]},"legend":null}}},
{"data":{"name":"mid"},"mark":{"type":"rule","color":"#000","strokeWidth":1,"strokeDash":[4,3]},
 "encoding":{"y":{"field":"v","type":"quantitative","title":null}}},
{"data":{"name":"d"},"mark":{"type":"line","color":"#b00000","strokeWidth":1},
 "encoding":{"x":{"field":"m","type":"quantitative","title":null},"y":{"field":"v","type":"quantitative","title":null}}},
{"data":{"name":"k"},"mark":{"type":"line","color":"#1a1a1a","strokeWidth":1.2},
 "encoding":{"x":{"field":"m","type":"quantitative","title":null},"y":{"field":"v","type":"quantitative","title":null}}},
{"data":{"name":"olab"},"mark":{"type":"text","align":"left","baseline":"middle","fontSize":12,"fontWeight":"bold","font":"Liberation Sans","color":"#5a5a5a"},
 "encoding":{"x":{"field":"m","type":"quantitative","title":null},"y":{"field":"v","type":"quantitative","title":null},"text":{"field":"t"}}},
{"data":{"name":"tdn"},"mark":{"type":"point","shape":"triangle-down","filled":true,"fill":"#8b0000","stroke":"#3a0000","strokeWidth":0.8,"size":55,"opacity":1},
 "encoding":{"x":{"field":"m","type":"quantitative","title":null},"y":{"field":"v","type":"quantitative","title":null}}},
{"data":{"name":"tup"},"mark":{"type":"point","shape":"triangle-up","filled":true,"fill":"#1d8f1d","stroke":"#0a3a0a","strokeWidth":0.8,"size":55,"opacity":1},
 "encoding":{"x":{"field":"m","type":"quantitative","title":null},"y":{"field":"v","type":"quantitative","title":null}}},
{"data":{"name":"otag"},"mark":{"type":"point","shape":"M-1,0L-0.75,-0.3L1,-0.3L1,0.3L-0.75,0.3Z","filled":true,"strokeWidth":1,"size":2116,"opacity":1},
 "encoding":{"x":{"field":"m","type":"quantitative","title":null},"y":{"field":"v","type":"quantitative","title":null},
   "fill":{"field":"s","type":"nominal","scale":{"domain":["ob","k","d","os"],"range":["#ffffff","#000000","#8b0000","#ffffff"]},"legend":null},
   "stroke":{"field":"s","type":"nominal","scale":{"domain":["ob","k","d","os"],"range":["#8b0000","#000000","#8b0000","#1e7a1e"]},"legend":null}}},
{"data":{"name":"otag"},"mark":{"type":"text","align":"center","baseline":"middle","fontSize":12,"font":"Liberation Sans","fill":"#000"},
 "encoding":{"x":{"field":"mt","type":"quantitative","title":null},"y":{"field":"v","type":"quantitative","title":null},"text":{"field":"t"},
   "opacity":{"condition":{"test":"datum.s=='ob'||datum.s=='os'","value":1},"value":0}}},
{"data":{"name":"otag"},"mark":{"type":"text","align":"center","baseline":"middle","fontSize":12,"font":"Liberation Sans","fill":"#fff"},
 "encoding":{"x":{"field":"mt","type":"quantitative","title":null},"y":{"field":"v","type":"quantitative","title":null},"text":{"field":"t"},
   "opacity":{"condition":{"test":"datum.s=='k'||datum.s=='d'","value":1},"value":0}}},
{"data":{"name":"wm"},"mark":{"type":"point","shape":"M-1,-0.11L1,-0.11L1,0.11L-1,0.11Z","filled":true,"fill":"#ffffff","strokeWidth":0,"size":12100,"opacity":1},
 "encoding":{"x":{"field":"m","type":"quantitative","title":null},"y":{"field":"v","type":"quantitative","title":null}}},
{"data":{"name":"wm"},"mark":{"type":"text","align":"center","baseline":"middle","fontSize":11,"fontWeight":"bold","font":"DejaVu Sans Mono","color":"#333"},
 "encoding":{"x":{"field":"m","type":"quantitative","title":null},"y":{"field":"v","type":"quantitative","title":null},"text":{"field":"t"}}}
]
}
]
}
